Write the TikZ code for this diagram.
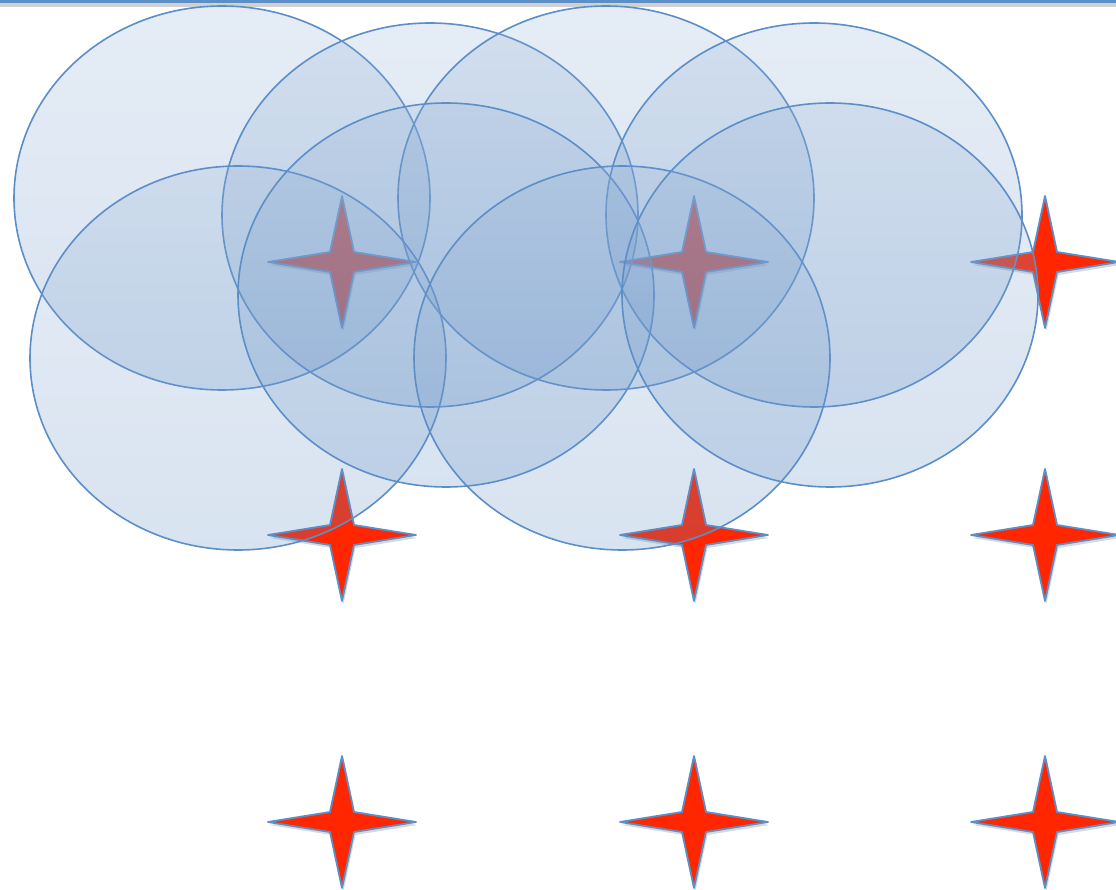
\documentclass[tikz,border=0pt]{standalone}
\usetikzlibrary{shadows}
\definecolor{acc}{RGB}{79,129,189}
\definecolor{edge}{RGB}{92,142,200}
\definecolor{starred}{RGB}{255,38,0}
\tikzset{
  sparkle/.pic={
    \draw[edge, line width=1.8pt, line join=round, fill=starred,
          drop shadow={shadow xshift=1.5pt, shadow yshift=-3pt, opacity=0.3}]
      (-74,0) -- (-12,-10) -- (0,-66) -- (12,-10) -- (74,0)
      -- (12,10) -- (0,66) -- (-12,10) -- cycle;
  },
  zone/.style={draw=edge, line width=1.6pt, top color=acc!62!white,
               bottom color=acc!92!white, fill opacity=0.24}
}
\begin{document}
\begin{tikzpicture}[x=1pt,y=-1pt]
\useasboundingbox (0,0) rectangle (1116,890);
% top rule
\fill[black!18] (0,3.5) rectangle (1116,7);
\draw[edge, line width=3.5pt] (0,1.75) -- (1116,1.75);
% stars (under the zones)
\foreach \sx/\nx in {342/a,694/b,1045/c}{
  \foreach \sy/\ny in {262/1,535/2,822/3}{
    \coordinate (s\nx\ny) at (\sx,\sy);
    \pic at (s\nx\ny) {sparkle};
  }
}
% coverage zones
\path[zone] (222,198) ellipse [x radius=208, y radius=192];
\path[zone] (430,215) ellipse [x radius=208, y radius=192];
\path[zone] (606,198) ellipse [x radius=208, y radius=192];
\path[zone] (814,215) ellipse [x radius=208, y radius=192];
\path[zone] (238,358) ellipse [x radius=208, y radius=192];
\path[zone] (446,295) ellipse [x radius=208, y radius=192];
\path[zone] (622,358) ellipse [x radius=208, y radius=192];
\path[zone] (830,295) ellipse [x radius=208, y radius=192];
\end{tikzpicture}
\end{document}
